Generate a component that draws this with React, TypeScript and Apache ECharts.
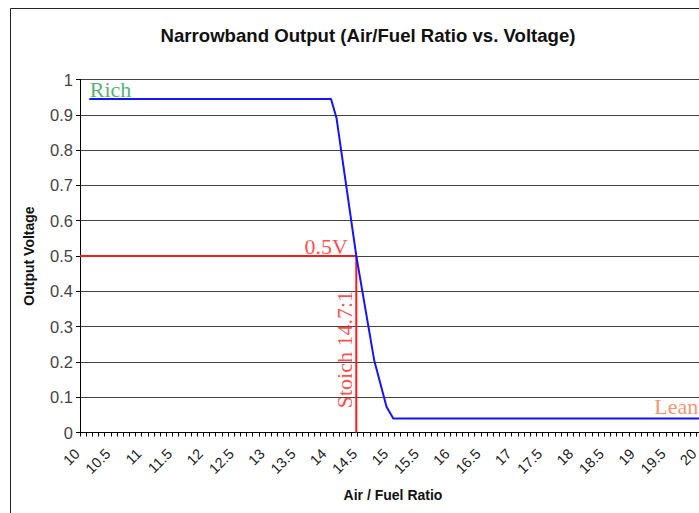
import React, { useEffect, useRef } from "react";
import * as echarts from "echarts";

// ---- data ----
const titleText = "Narrowband Output (Air/Fuel Ratio vs. Voltage)";
const xTitle = "Air / Fuel Ratio";
const yTitle = "Output Voltage";

const xMin = 10;
const xMax = 20.15;
const xStep = 0.1;
const xLabelStep = 0.5;
const yMin = 0;
const yMax = 1;
const yStep = 0.1;

// narrowband sensor curve (air/fuel ratio, volts)
const afrValues = [10.15, 14.07, 14.16, 14.48, 14.77, 14.97, 15.08, 20.15];
const voltValues = [0.945, 0.945, 0.89, 0.5, 0.205, 0.073, 0.04, 0.04];

// reference lines: 0.5 V and stoich
const refVolt = 0.5;
const stoichAfr = 14.48;

// annotation labels
const annoTexts = ["Rich", "0.5V", "Stoich 14.7:1", "Lean"];
const annoX = [10.15, stoichAfr, stoichAfr, 19.32];
const annoY = [0.945, refVolt, 0.07, 0.04];

const SANS = "'Liberation Sans', Arial, sans-serif";
const SERIF = "'Liberation Serif', 'Times New Roman', serif";

export default function App() {
  const ref = useRef<HTMLDivElement>(null);

  useEffect(() => {
    if (!ref.current) return;
    const chart = echarts.init(ref.current, undefined, { renderer: "svg" });

    const curve = afrValues.map((x, i) => [x, voltValues[i]]);
    const refLine = [
      [xMin, refVolt],
      [stoichAfr, refVolt],
      [stoichAfr, yMin],
    ];

    const annoStyles: any[] = [
      { color: "#1e9e52", align: "left", verticalAlign: "bottom", offset: [1, 2], rotate: 0 },
      { color: "#ff1a1a", align: "right", verticalAlign: "bottom", offset: [-8, 2], rotate: 0 },
      { color: "#ff1a1a", align: "left", verticalAlign: "bottom", offset: [-1, 0], rotate: 90 },
      { color: "#f07a45", align: "left", verticalAlign: "bottom", offset: [0, 0], rotate: 0 },
    ];
    const annoData = annoTexts.map((t, i) => ({
      value: [annoX[i], annoY[i]],
      label: {
        show: true,
        formatter: t,
        position: [0, 0],
        fontFamily: SERIF,
        fontSize: 22,
        ...annoStyles[i],
      },
    }));

    const fmtX = (v: number) => {
      const d = v / xLabelStep;
      if (Math.abs(d - Math.round(d)) < 1e-6) {
        return String(Math.round(d) * xLabelStep);
      }
      return "";
    };

    chart.setOption({
      animation: false,
      backgroundColor: "#ffffff",
      title: {
        text: titleText,
        left: 363,
        top: 21,
        textAlign: "center",
        textStyle: { fontFamily: SANS, fontSize: 18.6, fontWeight: "bold", color: "#111" },
      },
      grid: {
        left: 80,
        top: 79.5,
        bottom: 80.5,
        right: -7,
        containLabel: false,
        outerBoundsMode: "none",
      },
      graphic: [
        {
          type: "rect",
          silent: true,
          z: -10,
          shape: { x: 10.5, y: 8.5, width: 760, height: 600 },
          style: { fill: "none", stroke: "#222", lineWidth: 1 },
        },
      ],
      xAxis: {
        type: "value",
        min: xMin,
        max: xMax,
        interval: xStep,
        name: xTitle,
        nameLocation: "middle",
        nameGap: 55,
        nameTextStyle: { fontFamily: SANS, fontSize: 14, fontWeight: "bold", color: "#111" },
        axisLine: { show: true, onZero: false, lineStyle: { color: "#000", width: 1 } },
        axisTick: { show: true, length: 4, lineStyle: { color: "#000" } },
        axisLabel: {
          rotate: 45,
          margin: 16,
          padding: [0, 4, 0, 0],
          fontFamily: SANS,
          fontSize: 14.5,
          color: "#222",
          formatter: fmtX,
          showMaxLabel: false,
        },
        splitLine: { show: false },
      },
      yAxis: {
        type: "value",
        min: yMin,
        max: yMax,
        interval: yStep,
        name: yTitle,
        nameLocation: "middle",
        nameGap: 44,
        nameTextStyle: { fontFamily: SANS, fontSize: 14, fontWeight: "bold", color: "#111" },
        axisLine: { show: true, lineStyle: { color: "#000", width: 1 } },
        axisTick: { show: true, length: 4, lineStyle: { color: "#000" } },
        axisLabel: {
          margin: 7,
          fontFamily: SANS,
          fontSize: 16.5,
          color: "#444",
          formatter: (v: number) => String(Math.round(v * 10) / 10),
        },
        splitLine: { show: true, lineStyle: { color: "#444", width: 1 } },
      },
      series: [
        {
          name: "ref",
          type: "line",
          data: refLine,
          symbol: "none",
          lineStyle: { color: "#ff1a1a", width: 2 },
          z: 3,
        },
        {
          name: "curve",
          type: "line",
          data: curve,
          symbol: "none",
          lineStyle: { color: "#1414ff", width: 2 },
          z: 4,
        },
        {
          name: "annotations",
          type: "scatter",
          data: annoData,
          symbolSize: 1,
          itemStyle: { color: "transparent" },
          z: 5,
        },
      ],
    });

    return () => chart.dispose();
  }, []);

  return (
    <div
      ref={ref}
      style={{ position: "fixed", left: 0, top: 0, width: 699, height: 513 }}
    />
  );
}
